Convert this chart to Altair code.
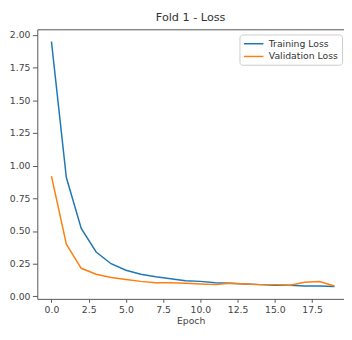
import altair as alt
import pandas as pd

epochs = list(range(20))
train_loss = [1.95, 0.91, 0.52, 0.34, 0.25, 0.20, 0.17, 0.15, 0.135, 0.12,
              0.115, 0.105, 0.10, 0.095, 0.09, 0.085, 0.085, 0.08, 0.08, 0.075]
val_loss = [0.92, 0.40, 0.215, 0.17, 0.145, 0.13, 0.115, 0.105, 0.105, 0.10,
            0.095, 0.09, 0.10, 0.095, 0.09, 0.09, 0.085, 0.108, 0.114, 0.08]
series = ["Training Loss", "Validation Loss"]
colors = ["#1f77b4", "#ff7f0e"]
x_ticks = [0.0, 2.5, 5.0, 7.5, 10.0, 12.5, 15.0, 17.5]
y_ticks = [0.0, 0.25, 0.5, 0.75, 1.0, 1.25, 1.5, 1.75, 2.0]

df = pd.DataFrame({
    "Epoch": epochs * 2,
    "Loss": train_loss + val_loss,
    "Series": [series[0]] * len(epochs) + [series[1]] * len(epochs),
})

FONT = "DejaVu Sans"
AX = "#555555"
TXT = "#444444"

xscale = alt.Scale(domain=[-0.95, 19.64], nice=False, zero=False)
yscale = alt.Scale(domain=[-0.019, 2.044], nice=False, zero=False)

y_enc = alt.Y("Loss:Q", scale=yscale,
              axis=alt.Axis(values=y_ticks, format=".2f", title=None, grid=False,
                            tickSize=5, labelPadding=2.5, domainColor=AX, tickColor=AX,
                            labelColor=TXT, labelFontSize=9.5, labelFont=FONT))

lines = alt.Chart(df).mark_line(strokeWidth=1.5).encode(
    x=alt.X("Epoch:Q", scale=xscale,
            axis=alt.Axis(values=x_ticks, format=".1f", title="Epoch", grid=False,
                          tickSize=3.5, labelPadding=2.5, domainColor=AX, tickColor=AX,
                          labelColor=TXT, labelFontSize=9.5, labelFont=FONT,
                          titleFont=FONT, titleFontSize=9.5, titleFontWeight="normal",
                          titleColor=TXT, titlePadding=2)),
    y=y_enc,
    color=alt.Color("Series:N",
                    scale=alt.Scale(domain=series, range=colors),
                    legend=alt.Legend(title=None, orient="none", legendX=207, legendY=5.3,
                                      symbolType="M-1,0H3", symbolSize=100,
                                      symbolStrokeWidth=1.5, labelFontSize=9.5,
                                      labelFont=FONT, labelColor="#333333",
                                      labelOffset=14.5, rowPadding=2, padding=3.5,
                                      strokeColor="#cccccc", cornerRadius=3,
                                      fillColor="white")),
)

spine = alt.Chart(df).mark_line(opacity=0).encode(
    x=alt.X("Epoch:Q", scale=xscale,
            axis=alt.Axis(orient="top", labels=False, ticks=False, title=None,
                          grid=False, domainColor=AX)),
    y=y_enc,
)

chart = alt.layer(lines, spine).resolve_axis(x="independent").properties(
    width=314,
    height=276,
    title=alt.Title("Fold 1 - Loss", font=FONT, fontSize=11.5, fontWeight="normal",
                    color="#333333", offset=6),
    autosize=alt.AutoSizeParams(type="none"),
    padding={"left": 30, "top": 18, "right": 0, "bottom": 26},
).configure_view(stroke=None)

chart.save("out.html", embed_options={"renderer": "svg", "actions": False})
